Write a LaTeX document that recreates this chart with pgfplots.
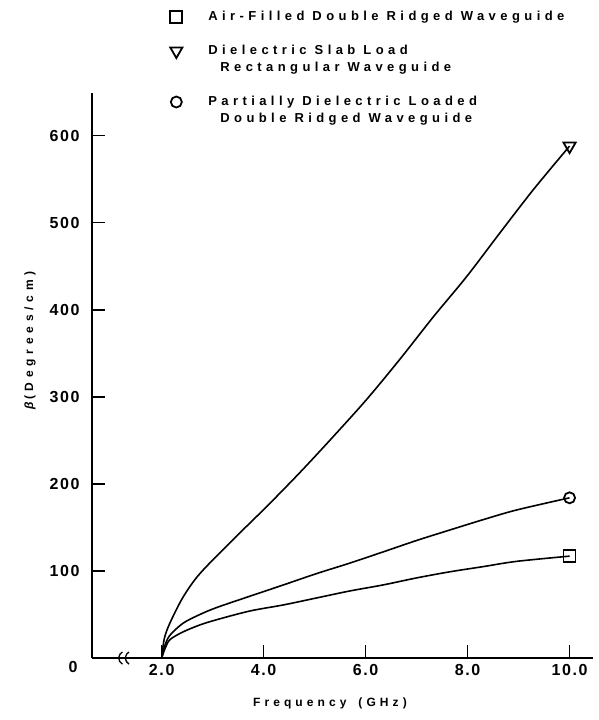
\documentclass[border=0pt]{standalone}
\usepackage{fontspec}
\setmainfont{Liberation Sans}
\newfontfamily\spaced{Liberation Sans}[LetterSpace=34]
\newfontfamily\ylab{Liberation Sans}[LetterSpace=40]
\newfontfamily\tickfont{Liberation Sans}[LetterSpace=10]
\usepackage{pgfplots}
\pgfplotsset{compat=1.18}
\begin{document}
\begin{tikzpicture}[x=1pt,y=1pt]
\path[use as bounding box] (0,0) rectangle (598,720);
\begin{axis}[
  at={(92pt,62pt)}, anchor=south west,
  width=501pt, height=565pt, scale only axis,
  xmin=0.633, xmax=10.46, ymin=0, ymax=649,
  axis x line*=bottom, axis y line*=left,
  axis line style={line width=1.8pt, -},
  tick align=inside, major tick length=13pt,
  tick style={line width=1.5pt, black},
  xtick={2,4,6,8,10}, xticklabels={2.0,4.0,6.0,8.0,10.0},
  ytick={100,200,300,400,500,600}, yticklabels={100,200,300,400,500,600},
  ticklabel style={font=\tickfont\bfseries\fontsize{16}{16}\selectfont},
  yticklabel style={xshift=-9pt},
  xticklabel style={yshift=-3pt},
  clip=false,
  legend cell align=left,
  legend image code/.code={\path[draw=none,fill=none] (0pt,-1pt) rectangle (20pt,3pt); \draw[overlay,#1] plot coordinates {(10pt,0pt)};},
  legend style={at={(axis description cs:0.148,1.149)}, anchor=north west,
    draw=none, fill=none, inner sep=0pt, row sep=1pt,
    nodes={inner sep=2pt, text height=9pt, text depth=3pt},
    font=\spaced\bfseries\fontsize{13}{17}\selectfont,
    /tikz/every odd column/.append style={column sep=20pt}},
]
% curves
\addplot[line width=1.6pt, smooth, forget plot] coordinates {
(2,0) (2.05,22) (2.16,40) (2.42,70) (2.75,97) (3.40,136) (4.06,174) (4.71,213)
(5.36,254) (6.02,297) (6.67,343) (7.33,392) (7.98,438) (8.63,488) (9.29,538) (10,588)};
\addplot[line width=1.6pt, smooth, forget plot] coordinates {
(2,0) (2.06,14) (2.16,26) (2.42,40) (2.75,50) (3.08,58) (3.73,71) (4.39,84) (5.04,97)
(5.69,109) (6.35,122) (7.0,135) (7.65,147) (8.31,159) (8.96,170) (10,184)};
\addplot[line width=1.6pt, smooth, forget plot] coordinates {
(2,0) (2.06,10) (2.16,21) (2.42,30) (2.75,38) (3.08,44) (3.73,54) (4.39,61) (5.04,69)
(5.69,77) (6.35,84) (7.0,92) (7.65,99) (8.31,105) (8.96,111) (10,117)};
% end markers
\addplot[only marks, mark=square, mark size=6pt, line width=1.8pt] coordinates {(10,117)};
\addlegendentry{Air-Filled Double Ridged Waveguide}
\addlegendimage{empty legend}
\addlegendentry{}
\addplot[only marks, mark=triangle, mark options={rotate=180}, mark size=7pt, line width=1.8pt] coordinates {(10,588)};
\addlegendentry{Dielectric Slab Load}
\addlegendimage{empty legend}
\addlegendentry{\hspace*{12pt}Rectangular Waveguide}
\addlegendimage{empty legend}
\addlegendentry{}
\addplot[only marks, mark=o, mark size=5.5pt, line width=1.8pt] coordinates {(10,184)};
\addlegendentry{Partially Dielectric Loaded}
\addlegendimage{empty legend}
\addlegendentry{\hspace*{12pt}Double Ridged Waveguide}
% extra labels
\node[font=\tickfont\bfseries\fontsize{16}{16}\selectfont] at (axis cs:0.633,0) [xshift=-19pt, yshift=-9pt] {0};
\node[font=\spaced\bfseries\fontsize{12}{12}\selectfont] at (axis cs:5.30,0) [yshift=-45pt] {Frequency\hspace{12pt}(GHz)};
\node[font=\ylab\bfseries\fontsize{12}{12}\selectfont, rotate=90] at ([xshift=-62pt]axis cs:0.633,365) {{\itshape β}\,(Degrees/cm)};
% axis break
\draw[line width=1.3pt] (axis cs:1.17,0) ++(3pt,6pt) arc[start angle=120, end angle=240, radius=7pt];
\draw[line width=1.3pt] (axis cs:1.30,0) ++(3pt,6pt) arc[start angle=120, end angle=240, radius=7pt];
\end{axis}
\end{tikzpicture}
\end{document}
